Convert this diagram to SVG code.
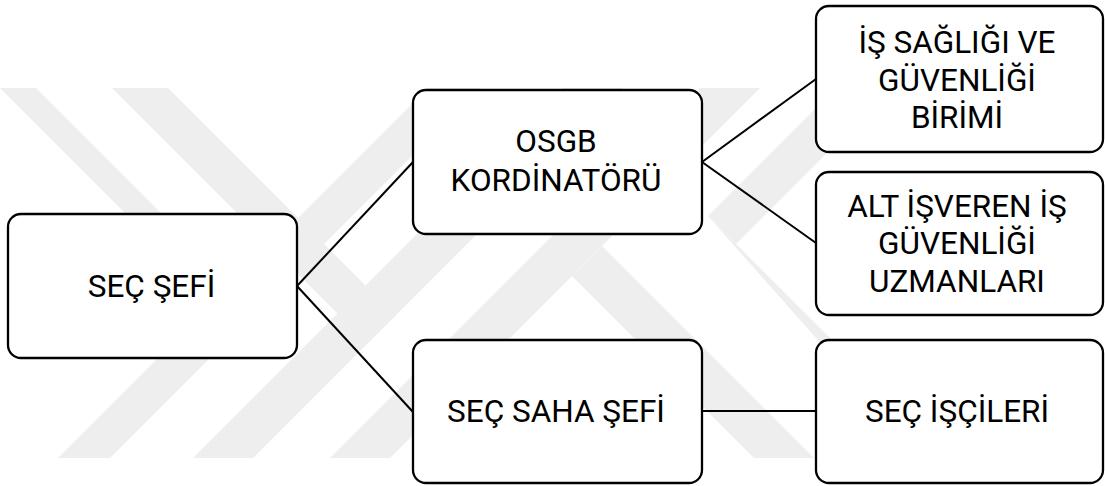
<svg xmlns="http://www.w3.org/2000/svg" width="1105" height="486" viewBox="0 0 1105 486">
  <style>
    .box { fill: #ffffff; stroke: #000000; stroke-width: 2.3; }
    .lbl { font-family: Roboto, "Open Sans", "Liberation Sans", sans-serif; font-size: 31.5px; fill: #000000; text-anchor: middle; }
    .wm { fill: #eeeeee; }
    .conn { stroke: #000000; stroke-width: 2; fill: none; }
  </style>
  <defs>
    <clipPath id="wmclip"><rect x="0" y="88" width="1105" height="370"/></clipPath>
  </defs>
  <rect x="0" y="0" width="1105" height="486" fill="#ffffff"/>
  <g id="watermark" clip-path="url(#wmclip)">
    <polygon class="wm" points="58,458 110,458 480,88 428,88"/>
    <polygon class="wm" points="193,458 253,458 623,88 563,88"/>
    <polygon class="wm" points="330,458 390,458 760,88 700,88"/>
    <polygon class="wm" points="0,88 36,88 258,310 240,328"/>
    <polygon class="wm" points="112,88 168,88 395.5,315.5 367.5,343.5"/>
    <polygon class="wm" points="602,246 814,458 754,458 572,276"/>
    <polygon class="wm" points="836,88 892,88 736,244 708,216"/>
    <polygon class="wm" points="708,216 736,244 950,458 922,458"/>
  </g>
  <g id="connectors">
    <line class="conn" x1="297" y1="286" x2="413" y2="162"/>
    <line class="conn" x1="297" y1="286" x2="413" y2="412"/>
    <line class="conn" x1="702" y1="162" x2="816" y2="79"/>
    <line class="conn" x1="702" y1="162" x2="816" y2="243"/>
    <line class="conn" x1="702" y1="411" x2="816" y2="411"/>
  </g>
  <g id="node-sec-sefi">
    <rect class="box" x="8" y="214" width="289" height="144" rx="13"/>
    <text class="lbl" x="151.5" y="297">SEÇ ŞEFİ</text>
  </g>
  <g id="node-osgb">
    <rect class="box" x="413" y="90" width="289" height="144" rx="13"/>
    <text class="lbl" x="556" y="152">OSGB</text>
    <text class="lbl" x="556" y="191">KORDİNATÖRÜ</text>
  </g>
  <g id="node-saha-sefi">
    <rect class="box" x="413" y="340" width="289" height="143" rx="13"/>
    <text class="lbl" x="556" y="422">SEÇ SAHA ŞEFİ</text>
  </g>
  <g id="node-isg-birimi">
    <rect class="box" x="816" y="6" width="287" height="146" rx="13"/>
    <text class="lbl" x="957" y="53">İŞ SAĞLIĞI VE</text>
    <text class="lbl" x="957" y="90.5">GÜVENLİĞİ</text>
    <text class="lbl" x="957" y="128">BİRİMİ</text>
  </g>
  <g id="node-alt-isveren">
    <rect class="box" x="816" y="172" width="287" height="143" rx="13"/>
    <text class="lbl" x="957" y="216.5">ALT İŞVEREN İŞ</text>
    <text class="lbl" x="957" y="254">GÜVENLİĞİ</text>
    <text class="lbl" x="957" y="291.5">UZMANLARI</text>
  </g>
  <g id="node-isciler">
    <rect class="box" x="816" y="340" width="287" height="143" rx="13"/>
    <text class="lbl" x="957" y="422">SEÇ İŞÇİLERİ</text>
  </g>
</svg>
